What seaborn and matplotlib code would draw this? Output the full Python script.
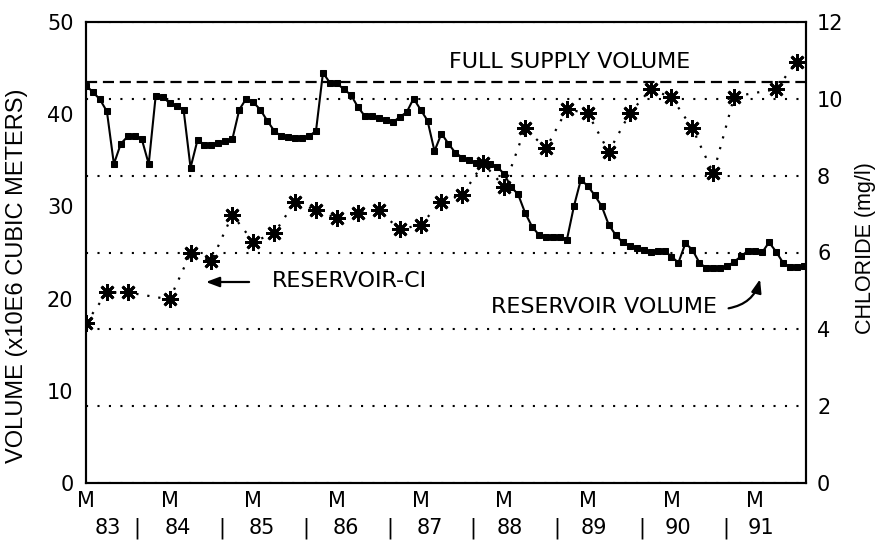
import numpy as np
import pandas as pd
import matplotlib
matplotlib.use("Agg")
import matplotlib.pyplot as plt
import seaborn as sns

# ---------------- data ----------------
# months since the "M" month of 1983 (monthly volume series)
volume = [43.1, 42.4, 41.6, 40.3, 34.6, 36.8, 37.6, 37.6, 37.3, 34.6,
          42.0, 41.9, 41.2, 40.9, 40.5, 34.2, 37.2, 36.7, 36.7, 36.9,
          37.1, 37.3, 40.5, 41.7, 41.3, 40.5, 39.3, 38.2, 37.6, 37.5,
          37.4, 37.4, 37.6, 38.2, 44.5, 43.4, 43.35, 42.7, 42.1, 40.8,
          39.8, 39.8, 39.55, 39.4, 39.1, 39.7, 40.2, 41.7, 40.5, 39.3,
          36.0, 37.9, 36.8, 35.8, 35.3, 35.0, 34.7, 34.7, 34.6, 34.3,
          33.5, 32.1, 31.3, 29.3, 27.8, 26.9, 26.7, 26.7, 26.7, 26.4,
          30.0, 32.9, 32.2, 31.2, 30.0, 28.0, 26.9, 26.1, 25.7, 25.5,
          25.3, 25.1, 25.2, 25.2, 24.55, 23.9, 26.0, 25.3, 23.9, 23.3,
          23.3, 23.3, 23.5, 24.0, 24.6, 25.2, 25.2, 25.0, 26.1, 25.1,
          23.9, 23.4, 23.4, 23.5]
volume_months = list(range(len(volume)))

chloride_months = [0, 3, 6, 12, 15, 18, 21, 24, 27, 30, 33, 36, 39, 42, 45,
                   48, 51, 54, 57, 60, 63, 66, 69, 72, 75, 78, 81, 84, 87,
                   90, 93, 99, 102]
chloride = [4.16, 4.96, 4.96, 4.78, 5.98, 5.78, 6.98, 6.28, 6.5, 7.32, 7.1,
            6.89, 7.02, 7.1, 6.6, 6.72, 7.32, 7.5, 8.32, 7.71, 9.23, 8.71,
            9.73, 9.62, 8.62, 9.62, 10.25, 10.04, 9.23, 8.06, 10.06, 10.25,
            10.97]

full_supply_volume = 43.5

m_tick_months = [0, 12, 24, 36, 48, 60, 72, 84, 96]
m_tick_labels = ["M"] * len(m_tick_months)
year_label_months = [3.2, 7.3, 13.2, 19.5, 25.2, 31.5, 37.3, 43.6, 49.3,
                     55.5, 60.8, 67.6, 72.8, 79.7, 84.9, 91.8, 96.8]
year_labels = ["83", "|", "84", "|", "85", "|", "86", "|", "87", "|",
               "88", "|", "89", "|", "90", "|", "91"]

vol_ticks = [0, 10, 20, 30, 40, 50]
cl_ticks = [0, 2, 4, 6, 8, 10, 12]

# ---------------- style ----------------
sns.set_style("white")
plt.rcParams['font.family'] = ['DejaVu Sans']
plt.rcParams['text.color'] = 'black'
plt.rcParams['axes.labelcolor'] = 'black'
plt.rcParams['xtick.color'] = 'black'
plt.rcParams['ytick.color'] = 'black'

fig = plt.figure(figsize=(8.82, 5.41), dpi=100)
ax = fig.add_axes([86 / 882, 58 / 541, 720 / 882, 461 / 541])
ax2 = ax.twinx()

vol_df = pd.DataFrame({"month": volume_months, "volume": volume})
cl_df = pd.DataFrame({"month": chloride_months, "chloride": chloride})

# grid lines (chloride scale)
ax2.set_ylim(0, 12)
ax2.set_yticks(cl_ticks)
ax2.grid(axis='y', color='black', linestyle=(0, (1, 4.5)), linewidth=1.5)
ax2.set_axisbelow(True)

sns.lineplot(data=vol_df, x="month", y="volume", ax=ax, color="black",
             linewidth=1.5, marker="s", markersize=4.3,
             markeredgecolor="black", zorder=3)
ax.axhline(full_supply_volume, color="black", linestyle=(0, (5, 2.6)),
           linewidth=1.6, zorder=2)

sns.lineplot(data=cl_df, x="month", y="chloride", ax=ax2, color="black",
             linewidth=1.6, linestyle=(0, (1, 4)), marker=(8, 2, 0),
             markersize=12, markeredgewidth=2.0, markeredgecolor="black",
             zorder=3)

ax.set_xlim(0, 103.3)
ax.set_ylim(0, 50)
ax.set_yticks(vol_ticks)
ax.set_yticklabels([str(v) for v in vol_ticks], fontsize=15)
ax2.set_yticklabels([str(v) for v in cl_ticks], fontsize=15)

ax.set_xticks(m_tick_months)
ax.set_xticklabels(m_tick_labels, fontsize=15)
ax.set_xticks(year_label_months, minor=True)
ax.set_xticklabels(year_labels, minor=True, fontsize=15)
ax.tick_params(axis='x', which='major', length=0, pad=6)
ax.tick_params(axis='x', which='minor', length=0, pad=25)
ax.tick_params(axis='y', length=0, pad=9)
ax2.tick_params(axis='y', length=0, pad=8)

ax.set_xlabel("")
ax.set_ylabel("VOLUME (x10E6 CUBIC METERS)", fontsize=17,
              family="Liberation Sans")
ax2.set_ylabel("CHLORIDE (mg/l)", fontsize=15.5, family="Liberation Sans")
ax.yaxis.set_label_coords(-0.08, 0.45)
ax2.yaxis.set_label_coords(1.068, 0.51)

for a in (ax, ax2):
    for s in a.spines.values():
        s.set_color("black")
        s.set_linewidth(1.5)
        s.set_visible(True)

ax.set_zorder(ax2.get_zorder() + 1)
ax.patch.set_visible(False)

# annotations
ax.text(69.4, 45.7, "FULL SUPPLY VOLUME", fontsize=16, ha="center",
        va="center")
ax.text(37.8, 21.9, "RESERVOIR-CI", fontsize=16, ha="center", va="center")
ax.annotate("", xy=(16.8, 21.8), xytext=(23.8, 21.8),
            arrowprops=dict(arrowstyle="-|>,head_length=0.8,head_width=0.3",
                            color="black", lw=1.6))
ax.text(74.3, 19.1, "RESERVOIR VOLUME", fontsize=16, ha="center",
        va="center")
ax.annotate("", xy=(96.8, 22.4), xytext=(91.8, 18.9),
            arrowprops=dict(arrowstyle="-|>,head_length=0.8,head_width=0.3",
                            color="black", lw=1.6,
                            connectionstyle="arc3,rad=0.35"))

fig.savefig("out.png", dpi=100)
